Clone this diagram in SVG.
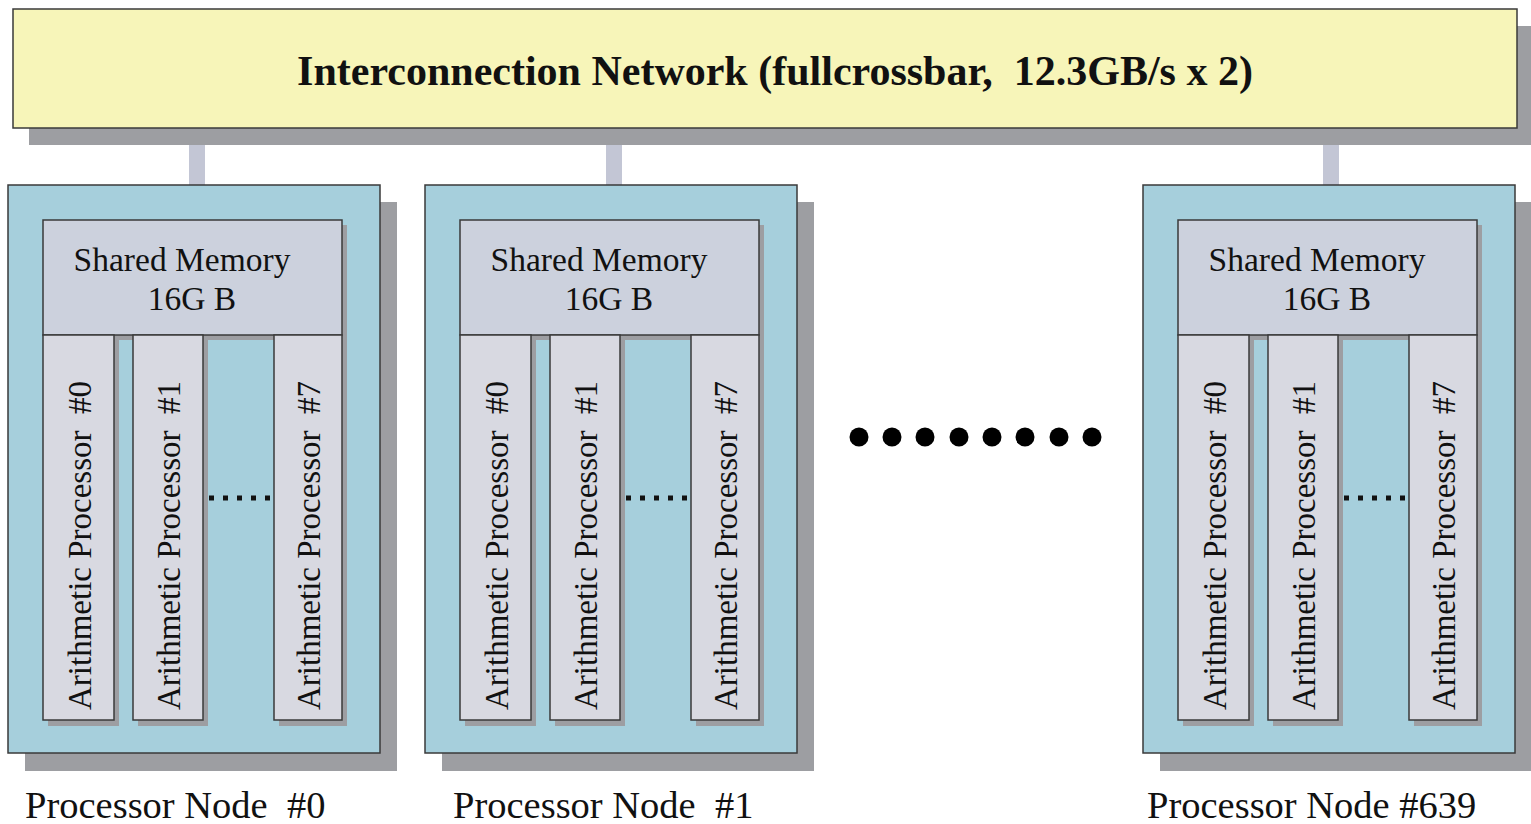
<svg xmlns="http://www.w3.org/2000/svg" width="1531" height="824" viewBox="0 0 1531 824">
<style>
.shadow{fill:#9d9ea2}
.banner{fill:#f7f5b9;stroke:#3a3a3a;stroke-width:1.5}
.outer{fill:#a6cfdc;stroke:#3a3a3a;stroke-width:1.5}
.mem{fill:#ccd1dd;stroke:#3a3a3a;stroke-width:1.5}
.proc{fill:#d8d9e1;stroke:#3a3a3a;stroke-width:1.5}
.stub{fill:#c3c6d5}
.t{font-family:"Liberation Serif","Times New Roman",serif;fill:#111;white-space:pre}
.title{font-size:42px;font-weight:bold;text-anchor:middle}
.memt{font-size:33.5px;text-anchor:middle}
.pt{font-size:33px}
.lbl{font-size:38.5px}
.dots{stroke:#111;stroke-width:5;stroke-dasharray:5 9}
</style>
<g id="connectors">
<rect class="stub" x="189" y="145" width="16" height="40"/>
<rect class="stub" x="606" y="145" width="16" height="40"/>
<rect class="stub" x="1323" y="145" width="16" height="40"/>
</g>
<g id="network">
<rect class="shadow" x="29" y="26" width="1502" height="119"/>
<rect class="banner" x="13" y="9" width="1504" height="119"/>
<text class="t title" x="775" y="85" xml:space="preserve">Interconnection Network (fullcrossbar,  12.3GB/s x 2)</text>
</g>
<g id="node0">
<rect class="shadow" x="25" y="202" width="372" height="569"/>
<rect class="outer" x="8" y="185" width="372" height="568"/>
<rect class="shadow" x="48" y="225" width="299" height="115"/>
<rect class="mem" x="43" y="220" width="299" height="115"/>
<text class="t memt" x="182" y="271">Shared Memory</text>
<text class="t memt" x="192" y="310">16G B</text>
<rect class="shadow" x="48" y="340" width="71" height="386"/>
<rect class="proc" x="43" y="335" width="71" height="385"/>
<text class="t pt" transform="translate(91,710) rotate(-90)" xml:space="preserve">Arithmetic Processor  #0</text>
<rect class="shadow" x="138" y="340" width="70" height="386"/>
<rect class="proc" x="133" y="335" width="70" height="385"/>
<text class="t pt" transform="translate(180,710) rotate(-90)" xml:space="preserve">Arithmetic Processor  #1</text>
<rect class="shadow" x="279" y="340" width="68" height="386"/>
<rect class="proc" x="274" y="335" width="68" height="385"/>
<text class="t pt" transform="translate(320,710) rotate(-90)" xml:space="preserve">Arithmetic Processor  #7</text>
<line class="dots" x1="209" y1="498" x2="270" y2="498"/>
<text class="t lbl" x="25" y="818" xml:space="preserve">Processor Node  #0</text>
</g>
<g id="node1">
<rect class="shadow" x="442" y="202" width="372" height="569"/>
<rect class="outer" x="425" y="185" width="372" height="568"/>
<rect class="shadow" x="465" y="225" width="299" height="115"/>
<rect class="mem" x="460" y="220" width="299" height="115"/>
<text class="t memt" x="599" y="271">Shared Memory</text>
<text class="t memt" x="609" y="310">16G B</text>
<rect class="shadow" x="465" y="340" width="71" height="386"/>
<rect class="proc" x="460" y="335" width="71" height="385"/>
<text class="t pt" transform="translate(508,710) rotate(-90)" xml:space="preserve">Arithmetic Processor  #0</text>
<rect class="shadow" x="555" y="340" width="70" height="386"/>
<rect class="proc" x="550" y="335" width="70" height="385"/>
<text class="t pt" transform="translate(597,710) rotate(-90)" xml:space="preserve">Arithmetic Processor  #1</text>
<rect class="shadow" x="696" y="340" width="68" height="386"/>
<rect class="proc" x="691" y="335" width="68" height="385"/>
<text class="t pt" transform="translate(737,710) rotate(-90)" xml:space="preserve">Arithmetic Processor  #7</text>
<line class="dots" x1="626" y1="498" x2="687" y2="498"/>
<text class="t lbl" x="453" y="818" xml:space="preserve">Processor Node  #1</text>
</g>
<g id="node639">
<rect class="shadow" x="1160" y="202" width="371" height="569"/>
<rect class="outer" x="1143" y="185" width="372" height="568"/>
<rect class="shadow" x="1183" y="225" width="299" height="115"/>
<rect class="mem" x="1178" y="220" width="299" height="115"/>
<text class="t memt" x="1317" y="271">Shared Memory</text>
<text class="t memt" x="1327" y="310">16G B</text>
<rect class="shadow" x="1183" y="340" width="71" height="386"/>
<rect class="proc" x="1178" y="335" width="71" height="385"/>
<text class="t pt" transform="translate(1226,710) rotate(-90)" xml:space="preserve">Arithmetic Processor  #0</text>
<rect class="shadow" x="1273" y="340" width="70" height="386"/>
<rect class="proc" x="1268" y="335" width="70" height="385"/>
<text class="t pt" transform="translate(1315,710) rotate(-90)" xml:space="preserve">Arithmetic Processor  #1</text>
<rect class="shadow" x="1414" y="340" width="68" height="386"/>
<rect class="proc" x="1409" y="335" width="68" height="385"/>
<text class="t pt" transform="translate(1455,710) rotate(-90)" xml:space="preserve">Arithmetic Processor  #7</text>
<line class="dots" x1="1344" y1="498" x2="1405" y2="498"/>
<text class="t lbl" x="1147" y="818">Processor Node #639</text>
</g>
<g id="ellipsis" fill="#000">
<circle cx="859" cy="437" r="9.5"/>
<circle cx="892" cy="437" r="9.5"/>
<circle cx="925" cy="437" r="9.5"/>
<circle cx="959" cy="437" r="9.5"/>
<circle cx="992" cy="437" r="9.5"/>
<circle cx="1025" cy="437" r="9.5"/>
<circle cx="1059" cy="437" r="9.5"/>
<circle cx="1092" cy="437" r="9.5"/>
</g>
</svg>
